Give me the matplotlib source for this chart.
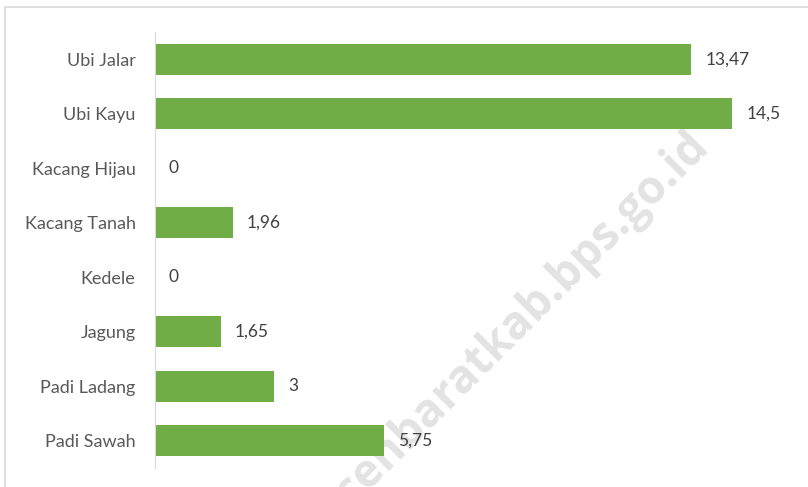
import matplotlib.pyplot as plt
from matplotlib.patches import Rectangle

# data (top to bottom as shown)
categories = ['Ubi Jalar', 'Ubi Kayu', 'Kacang Hijau', 'Kacang Tanah',
              'Kedele', 'Jagung', 'Padi Ladang', 'Padi Sawah']
values = [13.47, 14.5, 0, 1.96, 0, 1.65, 3, 5.75]
value_labels = ['13,47', '14,5', '0', '1,96', '0', '1,65', '3', '5,75']

plt.rcParams['font.family'] = ['Lato', 'DejaVu Sans']

W, H = 808, 487
fig = plt.figure(figsize=(W / 100, H / 100), dpi=100)

# outer chart frame (light grey, runs off the right/bottom edges)
fig.patches.append(Rectangle((5 / W, -0.1), 1.2, 1 - 7 / H + 0.1,
                             transform=fig.transFigure, fill=False,
                             edgecolor='#D9D9D9', linewidth=1.2))

# watermark, kept behind the axes
fig.text(512 / W, 1 - 329 / H, 'acehbaratkab.bps.go.id', rotation=45,
         ha='center', va='center', fontsize=33, fontweight='bold',
         color='#E3E3E3', zorder=-1, fontfamily=['Open Sans', 'DejaVu Sans'])

ax = fig.add_axes([155 / W, 1 - 468 / H, 637 / W, 436 / H])
ax.patch.set_alpha(0)
ypos = list(range(len(categories)))
ax.barh(ypos, values, height=0.57, color='#70AD47')
ax.set_ylim(len(categories) - 0.5, -0.5)
ax.set_xlim(0, 16)
ax.set_yticks(ypos)
ax.set_yticklabels(categories, fontsize=13, color='#595959')
ax.tick_params(axis='y', length=0, pad=14)
ax.set_xticks([])
for s in ['top', 'right', 'bottom']:
    ax.spines[s].set_visible(False)
ax.spines['left'].set_color('#D9D9D9')

for y, v, lab in zip(ypos, values, value_labels):
    ax.annotate(lab, (v, y), xytext=(10, 0), textcoords='offset points',
                va='center', ha='left', fontsize=12.5, color='#404040')

fig.savefig('out.png', dpi=100)
